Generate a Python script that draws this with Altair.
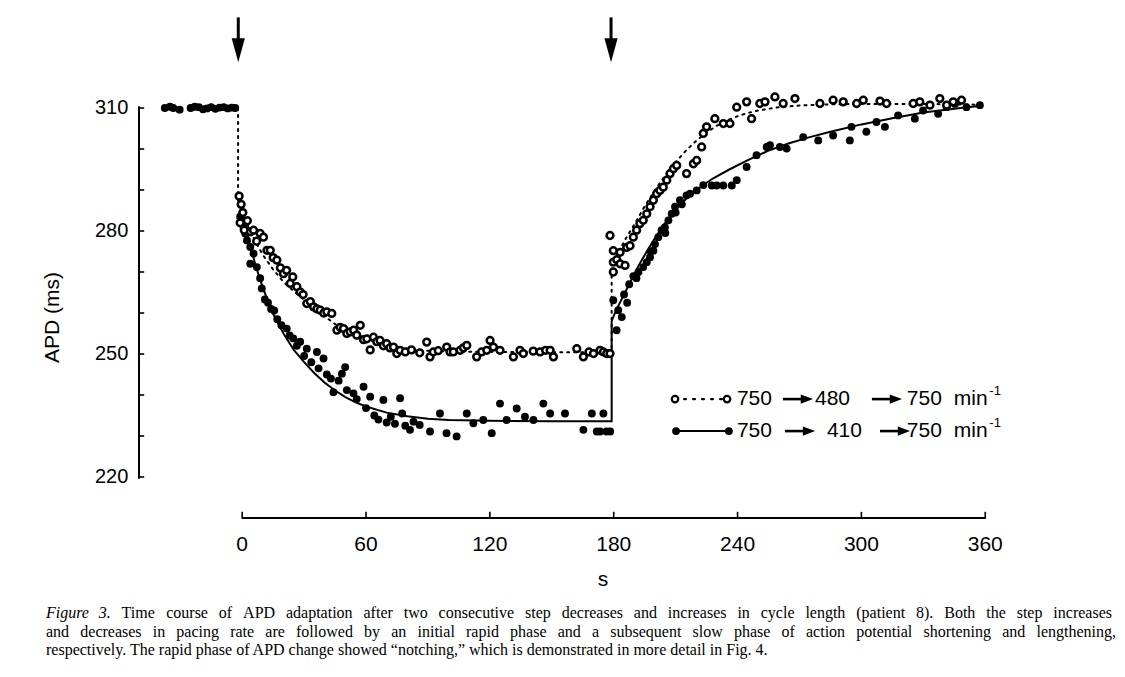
import altair as alt
import pandas as pd

# ---------------- data ----------------
# filled circles: 750 -> 410 -> 750 min-1
b_t = [-37.5, -35.0, -33.4, -30.3, -25.0, -23.0, -21.0, -19.0, -17.0, -15.0, -13.0, -11.0, -9.0, -7.0, -5.0, -3.4,
       -1.0, 0.6, 1.5, 2.3, 3.9, 3.9, 5.5, 7.1, 8.7, 9.5, 11.0, 12.5, 14.0, 15.5, 17.0, 19.0, 21.6, 23.0, 24.8,
       26.5, 28.1, 30.0, 31.3, 33.5, 36.2, 37.0, 39.4, 41.0, 43.0, 44.2, 46.7, 48.3, 49.9, 50.7, 53.9, 55.5,
       58.8, 60.0, 62.0, 64.0, 66.0, 68.4, 70.0, 72.0, 74.0, 76.5, 77.5, 79.0, 81.3, 83.0, 86.0, 91.0, 95.8,
       99.0, 103.9, 108.8, 112.0, 116.8, 120.9, 124.9, 128.1, 133.0, 137.0, 141.1, 145.9, 149.2, 156.4, 165.3,
       169.4, 171.8, 173.4, 175.0, 176.5, 178.3,
       179.8, 181.4, 182.2, 183.9, 185.0, 186.5, 187.5, 189.5, 191.0, 192.0, 194.3, 196.0, 197.6, 198.0, 199.2,
       200.0, 201.6, 203.2, 204.8, 205.0, 206.5, 208.1, 209.7, 210.0, 212.1, 213.0, 215.3, 217.0, 220.2, 223.4,
       227.5, 229.9, 233.1, 237.2, 239.6, 244.4, 249.2, 254.1, 255.7, 260.5, 263.8, 271.8, 279.1, 286.3, 294.4,
       295.2, 302.4, 307.3, 311.4, 317.8, 325.9, 329.9, 337.2, 341.3, 345.3, 350.9, 357.4]
b_v = [310.0, 310.3, 310.0, 309.6, 310.0, 310.3, 310.2, 309.7, 309.9, 310.2, 309.8, 310.1, 310.2, 309.9, 310.1, 310.0,
       283.5, 281.0, 279.4, 277.7, 276.1, 272.0, 274.5, 271.2, 268.5, 266.0, 263.3, 262.5, 261.0, 260.6, 258.5,
       257.0, 256.2, 254.5, 253.8, 252.0, 253.0, 249.5, 251.3, 248.0, 250.5, 246.5, 248.9, 245.0, 244.0, 240.7,
       243.5, 245.2, 246.8, 241.2, 240.4, 239.0, 242.0, 236.8, 239.6, 235.0, 234.0, 238.8, 233.3, 234.7, 233.0,
       239.2, 235.5, 232.5, 231.5, 233.5, 232.7, 231.1, 235.5, 230.7, 229.9, 235.5, 233.1, 233.9, 230.7, 237.9,
       233.9, 236.7, 234.7, 233.9, 237.9, 235.5, 235.5, 231.5, 235.5, 231.1, 231.1, 235.5, 231.1, 231.1,
       263.1, 255.8, 260.7, 259.0, 264.5, 262.5, 267.0, 269.0, 268.5, 270.0, 271.2, 272.4, 273.6, 275.0, 275.2,
       276.8, 278.5, 280.2, 280.9, 279.5, 282.6, 284.2, 285.9, 284.5, 287.5, 286.5, 288.7, 289.1, 289.9, 291.2,
       291.1, 291.1, 291.1, 291.1, 292.4, 295.6, 298.5, 300.5, 300.9, 300.5, 300.1, 302.9, 302.1, 303.3, 302.1,
       305.4, 304.2, 306.6, 305.4, 308.2, 307.4, 309.4, 308.6, 310.2, 311.0, 310.2, 310.7]

# open circles: 750 -> 480 -> 750 min-1
a_t = [-1.5, -0.5, 0.3, -1.0, 1.0, 2.5, 4.0, 5.5, 7.0, 8.7, 10.3, 12.0, 13.6, 15.0, 16.8, 18.5, 20.0, 21.5, 23.3,
       24.5, 26.5, 28.1, 29.5, 31.3, 33.0, 34.6, 36.2, 37.8, 39.5, 41.0, 43.4, 45.9, 47.5, 49.1, 50.7, 52.3, 54.0,
       55.5, 57.2, 58.8, 60.4, 62.0, 63.6, 65.2, 66.8, 68.4, 70.0, 71.6, 73.3, 74.9, 76.5, 79.0, 82.0, 86.0, 89.4,
       91.0, 92.6, 95.0, 99.1, 100.7, 102.3, 105.6, 107.2, 108.8, 113.6, 116.0, 118.5, 120.1, 121.7, 124.9, 131.4,
       134.6, 136.2, 141.0, 144.3, 147.0, 149.2, 150.8, 162.1, 165.3, 168.0, 170.2, 173.4, 175.0, 176.6, 178.2,
       178.2, 179.8, 179.8, 179.8, 181.5, 183.1, 183.1, 185.5, 186.3, 187.9, 189.5, 191.1, 192.7, 194.3, 196.0,
       197.6, 199.2, 200.8, 202.4, 204.0, 205.7, 207.3, 208.9, 210.5, 215.3, 218.6, 220.2, 222.6, 223.4, 225.0,
       229.0, 233.1, 236.3, 239.6, 244.4, 246.8, 250.8, 253.3, 258.1, 262.1, 267.8, 279.9, 286.3, 291.2, 297.7,
       300.9, 309.0, 312.2, 325.1, 328.3, 333.2, 338.0, 341.3, 344.5, 348.5]
a_v = [288.5, 286.5, 284.5, 282.0, 280.2, 282.5, 279.8, 280.2, 277.5, 279.4, 278.5, 275.3, 275.3, 273.5, 272.9,
       271.0, 269.6, 270.4, 267.2, 268.8, 266.4, 265.1, 264.5, 262.3, 262.8, 261.5, 261.0, 260.7, 260.0, 260.3,
       259.9, 255.8, 256.5, 256.2, 255.0, 255.4, 255.8, 254.6, 257.0, 253.5, 253.7, 251.0, 254.1, 253.0, 253.3,
       252.0, 252.5, 251.5, 251.7, 250.1, 250.9, 250.5, 251.0, 250.3, 252.9, 249.3, 250.5, 250.8, 251.7, 250.5,
       250.5, 250.9, 251.5, 252.1, 249.3, 250.5, 250.9, 253.3, 251.7, 250.9, 249.3, 250.9, 250.1, 250.7, 250.5,
       250.9, 250.9, 249.3, 251.3, 249.3, 250.5, 250.1, 250.9, 250.5, 250.1, 250.1,
       278.9, 275.2, 272.4, 270.0, 273.0, 274.8, 272.0, 271.6, 276.0, 276.4, 278.5, 280.2, 281.8, 282.6, 284.2,
       285.9, 287.5, 289.1, 289.9, 290.7, 292.4, 294.0, 295.2, 296.0, 294.0, 296.4, 297.2, 300.5, 303.8, 305.4,
       307.4, 306.2, 306.2, 310.2, 311.5, 307.4, 311.1, 311.5, 312.7, 311.1, 312.3, 311.1, 311.9, 311.5, 311.1,
       311.9, 311.7, 311.1, 311.1, 311.5, 310.7, 312.3, 310.7, 311.5, 311.9]

# fitted curves (dotted: 480 series, solid: 410 series)
fa_t = [-2, -2, 0, 3, 6, 10, 15, 20, 25, 30, 35, 40, 45, 50, 55, 60, 70, 80, 90, 100, 120, 150, 179,
        179, 182, 186, 190, 195, 200, 205, 210, 215, 220, 225, 230, 235, 240, 245, 250, 260, 270, 285, 300, 330, 357]
fa_v = [310, 287.5, 285, 281, 277.8, 274.2, 270.6, 267.6, 265.3, 263.2, 261.2, 259.2, 257.3, 255.8, 254.6, 253.6,
        252.2, 251.3, 250.8, 250.6, 250.5, 250.4, 250.4,
        271, 274.5, 278.3, 281.6, 286, 290, 293.6, 296.8, 299.6, 302, 304, 305.7, 307, 308, 308.8, 309.4, 310.2,
        310.6, 310.9, 311, 311, 310.8]
fb_t = [-2, 0, 2, 4, 6, 8, 10, 12, 15, 20, 25, 30, 35, 40, 45, 50, 55, 60, 70, 80, 90, 100, 120, 150, 179,
        179, 181, 184, 188, 192, 196, 200, 204, 208, 212, 216, 220, 228, 236, 245, 255, 265, 275, 285, 300, 315,
        330, 345, 357]
fb_v = [288, 285, 280.5, 276.3, 272.5, 269.2, 266.2, 263.5, 259.8, 255, 251, 248, 245.3, 243, 241.1, 239.5, 238.2,
        237.2, 235.7, 234.8, 234.2, 233.9, 233.7, 233.6, 233.6,
        258, 260.5, 263.5, 267.5, 271.5, 275, 278.3, 281.3, 284, 286.3, 288.3, 290, 292.8, 295, 297.3, 299.6,
        301.4, 302.9, 304.2, 306, 307.5, 308.9, 309.8, 310.5]

x_ticks = [0, 60, 120, 180, 240, 300, 360]
y_ticks = [220, 230, 240, 250, 260, 270, 280, 290, 300, 310]
y_labels = [220, 250, 280, 310]
step_times = [-1.9, 178.7]

caption_italic = "Figure 3."
caption_line1 = "Time course of APD adaptation after two consecutive step decreases and increases in cycle length (patient 8). Both the step increases"
caption_line2 = "and decreases in pacing rate are followed by an initial rapid phase and a subsequent slow phase of action potential shortening and lengthening,"
caption_line3 = "respectively. The rapid phase of APD change showed \u201cnotching,\u201d which is demonstrated in more detail in Fig. 4."

# ---------------- layout ----------------
X = alt.Scale(domain=[-50, 372], nice=False, zero=False)
Y = alt.Scale(domain=[220, 310], nice=False, zero=False)
W, H = 871, 369
PAD_L, PAD_T = 131, 100
SANS = "Liberation Sans"
SERIF = "Liberation Serif"
CAP_SIZE = 16


def px_to_t(px):
    # page pixel -> x data unit (page margin 8px)
    return -50 + (px - 8 - PAD_L) * 422 / W


# Times / Liberation Serif advance widths (1/1000 em), used to justify the caption
_TW = {' ': 250, '(': 333, ')': 333, ',': 250, '.': 250, '\u201c': 444, '\u201d': 444, '8': 500, '4': 500,
       '3': 500, 'A': 722, 'B': 667, 'D': 722, 'F': 556, 'P': 556, 'T': 611,
       'a': 444, 'b': 500, 'c': 444, 'd': 500, 'e': 444, 'f': 333, 'g': 500, 'h': 500, 'i': 278, 'j': 278,
       'k': 500, 'l': 278, 'm': 778, 'n': 500, 'o': 500, 'p': 500, 'q': 500, 'r': 333, 's': 389, 't': 278,
       'u': 500, 'v': 500, 'w': 722, 'x': 500, 'y': 500, 'z': 444}


def tw(s, size):
    return sum(_TW.get(ch, 500) for ch in s) * size / 1000.0


def justify(words, x0, x1, size):
    widths = [tw(w, size) for w in words]
    gap = (x1 - x0 - sum(widths)) / max(1, len(words) - 1)
    xs, x = [], x0
    for w in widths:
        xs.append(x)
        x += w + gap
    return xs


def base(df):
    return alt.Chart(df).encode(
        x=alt.X("t:Q", scale=X, axis=None),
        y=alt.Y("v:Q", scale=Y, axis=None),
    )


layers = []

# fitted curves
fa = pd.DataFrame({"t": fa_t, "v": fa_v, "i": range(len(fa_t))})
fb = pd.DataFrame({"t": fb_t, "v": fb_v, "i": range(len(fb_t))})
layers.append(base(fa).mark_line(color="black", strokeWidth=2, strokeDash=[2, 5], strokeCap="round")
              .encode(order="i:Q"))
layers.append(base(fb).mark_line(color="black", strokeWidth=2).encode(order="i:Q"))

# points
pa = pd.DataFrame({"t": a_t, "v": a_v})
pb = pd.DataFrame({"t": b_t, "v": b_v})
layers.append(base(pb).mark_circle(size=62, color="black", opacity=1))
layers.append(base(pa).mark_point(shape="circle", filled=True, fill="white", stroke="black",
                                  strokeWidth=2.5, size=46, opacity=1))

# y axis
layers.append(base(pd.DataFrame({"t": [-50], "v": [219.6], "v2": [310.4]}))
              .mark_rule(color="black", strokeWidth=2).encode(y2="v2:Q"))
layers.append(base(pd.DataFrame({"t": [-50] * len(y_ticks), "t2": [-47.5] * len(y_ticks), "v": y_ticks}))
              .mark_rule(color="black", strokeWidth=1.6).encode(x2="t2:Q"))
layers.append(base(pd.DataFrame({"t": [-55.2] * len(y_labels), "v": y_labels,
                                 "txt": [str(v) for v in y_labels]}))
              .mark_text(align="right", baseline="middle", font=SANS, fontSize=20, color="black")
              .encode(text="txt:N"))
layers.append(base(pd.DataFrame({"t": [-91.5], "v": [258.9], "txt": ["APD (ms)"]}))
              .mark_text(angle=270, align="center", baseline="middle", font=SANS, fontSize=21, color="black")
              .encode(text="txt:N"))

# x axis
layers.append(base(pd.DataFrame({"t": [-0.3], "t2": [360.3], "v": [210]}))
              .mark_rule(color="black", strokeWidth=2).encode(x2="t2:Q"))
layers.append(base(pd.DataFrame({"t": x_ticks, "v": [210] * len(x_ticks), "v2": [211.5] * len(x_ticks)}))
              .mark_rule(color="black", strokeWidth=1.6).encode(y2="v2:Q"))
layers.append(base(pd.DataFrame({"t": x_ticks, "v": [203.3] * len(x_ticks), "txt": [str(x) for x in x_ticks]}))
              .mark_text(align="center", baseline="middle", font=SANS, fontSize=21, color="black")
              .encode(text="txt:N"))
layers.append(base(pd.DataFrame({"t": [174.8], "v": [194.8], "txt": ["s"]}))
              .mark_text(align="center", baseline="middle", font=SANS, fontSize=21, color="black")
              .encode(text="txt:N"))

# step arrows
layers.append(base(pd.DataFrame({"t": step_times, "v": [325.3] * 2, "v2": [332.1] * 2}))
              .mark_rule(color="black", strokeWidth=3).encode(y2="v2:Q"))
layers.append(base(pd.DataFrame({"t": step_times, "v": [324.1] * 2}))
              .mark_point(shape="M -0.55 -1 L 0.55 -1 L 0 1 Z", filled=True, color="black", size=576, opacity=1))

# legend
layers.append(base(pd.DataFrame({"t": [209.7], "t2": [234.9], "v": [239.0]}))
              .mark_rule(color="black", strokeWidth=2.2, strokeDash=[2, 7], strokeCap="round").encode(x2="t2:Q"))
layers.append(base(pd.DataFrame({"t": [210.2], "t2": [235.8], "v": [231.2]}))
              .mark_rule(color="black", strokeWidth=2).encode(x2="t2:Q"))
layers.append(base(pd.DataFrame({"t": [210.2, 235.8], "v": [231.2, 231.2]}))
              .mark_circle(size=62, color="black", opacity=1))
layers.append(base(pd.DataFrame({"t": [209.7, 234.9], "v": [239.0, 239.0]}))
              .mark_point(shape="circle", filled=True, fill="white", stroke="black", strokeWidth=2.2, size=42,
                          opacity=1))
leg_txt = pd.DataFrame({
    "t": [239.7, 277.5, 322.0, 344.8, 239.7, 283.3, 322.0, 344.8],
    "v": [239.0] * 4 + [231.2] * 4,
    "txt": ["750", "480", "750", "min", "750", "410", "750", "min"],
})
layers.append(base(leg_txt).mark_text(align="left", baseline="middle", font=SANS, fontSize=21, color="black")
              .encode(text="txt:N"))
layers.append(base(pd.DataFrame({"t": [362.0, 362.0], "v": [240.9, 233.1], "txt": ["-1", "-1"]}))
              .mark_text(align="left", baseline="middle", font=SANS, fontSize=13, color="black")
              .encode(text="txt:N"))
arr = pd.DataFrame({"t": [262.0, 305.1, 263.0, 309.0], "t2": [273.0, 316.0, 274.0, 320.0],
                    "v": [239.0, 239.0, 231.2, 231.2]})
layers.append(base(arr).mark_rule(color="black", strokeWidth=2.6).encode(x2="t2:Q"))
arrh = pd.DataFrame({"t": [273.6, 316.7, 274.6, 320.6], "v": [239.0, 239.0, 231.2, 231.2]})
layers.append(base(arrh).mark_point(shape="M -1 -0.75 L 1 0 L -1 0.75 Z", filled=True, color="black",
                                    size=150, opacity=1))

# caption (lines 1 and 2 justified, as in the printed figure)
CAP_X0, CAP_X1, CAP_X2 = 46, 1112, 1116
cap_v = [186.8, 182.1, 177.7]
ital_w = [w for w in caption_italic.split(" ")]
l1 = ital_w + caption_line1.split(" ")
xs1 = justify(l1, CAP_X0, CAP_X1, CAP_SIZE)
l2 = caption_line2.split(" ")
xs2 = justify(l2, CAP_X0, CAP_X2, CAP_SIZE)
n_it = len(ital_w)
cap_it = pd.DataFrame({"t": [px_to_t(x) for x in xs1[:n_it]], "v": [cap_v[0]] * n_it, "txt": l1[:n_it]})
cap_rm = pd.DataFrame({
    "t": [px_to_t(x) for x in xs1[n_it:]] + [px_to_t(x) for x in xs2] + [px_to_t(CAP_X0)],
    "v": [cap_v[0]] * (len(l1) - n_it) + [cap_v[1]] * len(l2) + [cap_v[2]],
    "txt": l1[n_it:] + l2 + [caption_line3],
})
layers.append(base(cap_it).mark_text(align="left", baseline="middle", font=SERIF, fontSize=CAP_SIZE,
                                     fontStyle="italic", color="black").encode(text="txt:N"))
layers.append(base(cap_rm).mark_text(align="left", baseline="middle", font=SERIF, fontSize=CAP_SIZE,
                                     color="black").encode(text="txt:N"))

# whole drawing kept inside the 1109 x 661 area of the page, so no scrollbars appear
chart = alt.layer(*layers).properties(
    width=W, height=H,
    autosize=alt.AutoSizeParams(type="none"),
    padding={"left": PAD_L, "top": PAD_T, "right": 1109 - PAD_L - W, "bottom": 660 - PAD_T - H},
    background="white",
).configure_view(stroke=None)

chart.save("out.html", embed_options={"renderer": "svg", "actions": False})
